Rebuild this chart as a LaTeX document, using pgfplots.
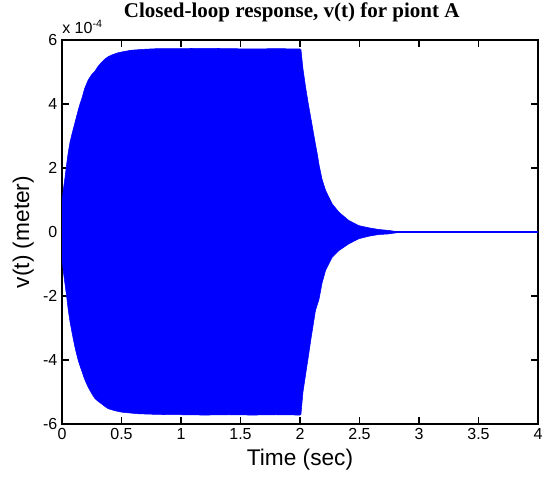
\documentclass[border=0pt]{standalone}
\usepackage{fontspec}
\setmainfont{Liberation Sans}
\newfontfamily\timesfont{Liberation Serif}
\usepackage{pgfplots}
\usepackage{pgfplotstable}
\pgfplotsset{compat=1.18}

% envelope of the oscillation: upper edge forward in time, then lower edge backward
\pgfplotstableread{
t v
0 0
0.002 1.0e-4
0.01 1.3e-4
0.025 1.7e-4
0.04 2.15e-4
0.053 2.5e-4
0.067 2.8e-4
0.081 3.02e-4
0.095 3.22e-4
0.109 3.42e-4
0.123 3.62e-4
0.137 3.82e-4
0.151 4.0e-4
0.165 4.15e-4
0.19 4.48e-4
0.22 4.75e-4
0.25 4.92e-4
0.276 5.02e-4
0.30 5.16e-4
0.332 5.3e-4
0.36 5.4e-4
0.388 5.48e-4
0.43 5.55e-4
0.47 5.6e-4
0.52 5.64e-4
0.58 5.68e-4
0.69 5.71e-4
0.8 5.73e-4
1.0 5.73e-4
1.2 5.74e-4
1.4 5.73e-4
1.6 5.72e-4
1.8 5.73e-4
2.0 5.72e-4
2.008 5.70e-4
2.025 5.1e-4
2.048 4.5e-4
2.07 4.0e-4
2.095 3.48e-4
2.12 2.95e-4
2.145 2.44e-4
2.16 2.1e-4
2.185 1.65e-4
2.215 1.3e-4
2.27 0.88e-4
2.327 0.62e-4
2.41 0.36e-4
2.494 0.2e-4
2.58 0.13e-4
2.66 0.08e-4
2.745 0.05e-4
2.8 0.02e-4
2.85 0
2.8 -0.03e-4
2.745 -0.06e-4
2.66 -0.08e-4
2.58 -0.13e-4
2.494 -0.21e-4
2.41 -0.37e-4
2.327 -0.58e-4
2.27 -0.79e-4
2.215 -1.2e-4
2.185 -1.6e-4
2.16 -2.1e-4
2.13 -2.45e-4
2.09 -3.39e-4
2.07 -3.9e-4
2.048 -4.43e-4
2.025 -5.0e-4
2.008 -5.70e-4
2.0 -5.72e-4
1.8 -5.71e-4
1.6 -5.72e-4
1.4 -5.71e-4
1.2 -5.72e-4
1.0 -5.71e-4
0.8 -5.70e-4
0.64 -5.68e-4
0.5 -5.63e-4
0.44 -5.58e-4
0.388 -5.52e-4
0.36 -5.45e-4
0.332 -5.37e-4
0.30 -5.28e-4
0.276 -5.2e-4
0.25 -5.05e-4
0.22 -4.85e-4
0.19 -4.6e-4
0.165 -4.33e-4
0.151 -4.18e-4
0.137 -4.02e-4
0.123 -3.82e-4
0.109 -3.6e-4
0.095 -3.35e-4
0.081 -3.08e-4
0.067 -2.8e-4
0.053 -2.45e-4
0.04 -2.05e-4
0.025 -1.62e-4
0.01 -1.2e-4
0.002 -0.9e-4
0 0
}\envelope

\pgfplotstableread{
t v
2.7 0
4 0
}\flatline

\begin{document}
\begin{tikzpicture}
\begin{axis}[name=ax, scale only axis, width=357pt, height=288pt,
  xmin=0, xmax=4, ymin=-6e-4, ymax=6e-4,
  xtick={0,0.5,1,1.5,2,2.5,3,3.5,4},
  ytick={-6e-4,-4e-4,-2e-4,0,2e-4,4e-4,6e-4},
  scaled y ticks=base 10:4,
  ytick scale label code/.code={x 10\textsuperscript{#1}},
  every y tick scale label/.style={at={(rel axis cs:0,1)}, anchor=base west, yshift=5pt, inner sep=0pt, font=\fontsize{12}{13}\selectfont},
  tick align=inside,
  major tick length=5pt,
  tick style={black, line width=0.8pt},
  axis line style={black, line width=0.8pt},
  /pgf/number format/assume math mode=true,
  tick label style={font=\fontsize{12}{13}\selectfont},
  xlabel={Time (sec)}, ylabel={v(t) (meter)},
  label style={font=\fontsize{17}{18}\selectfont},
  title={\timesfont\bfseries Closed-loop response, v(t) for piont A},
  title style={font=\fontsize{15.75}{17}\selectfont, at={(0.5,1)}, anchor=base, yshift=11pt, xshift=-6.2pt, inner sep=0pt},
]
\addplot[blue, fill=blue, line width=0.4pt] table[x=t, y=v] {\envelope};
\addplot[blue, line width=1.4pt] table[x=t, y=v] {\flatline};
\end{axis}
\pgfresetboundingbox
\path (ax.south west) ++(-46.5pt,-39.75pt) rectangle ([xshift=3.75pt, yshift=30pt]ax.north east);
\end{tikzpicture}
\end{document}
